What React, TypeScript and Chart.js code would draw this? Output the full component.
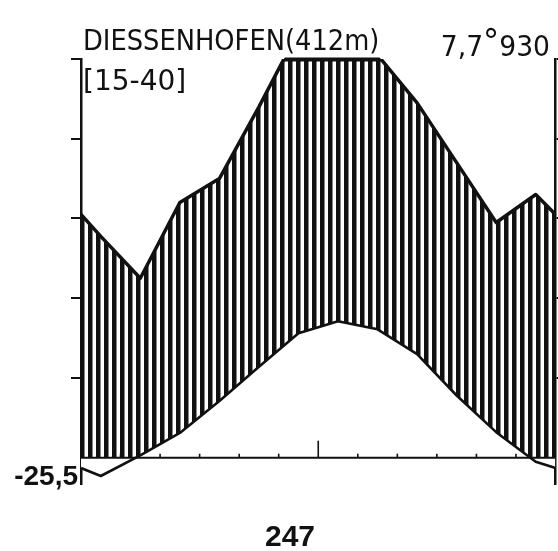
import React, { useEffect, useRef } from 'react';
import { Chart, registerables } from 'chart.js';

Chart.register(...registerables);

// ---- data (Walter-Lieth style) ----
const months = ['Jan', 'Feb', 'Mär', 'Apr', 'Mai', 'Jun', 'Jul', 'Aug', 'Sep', 'Okt', 'Nov', 'Dez'];
const precipitationMm = [55.5, 45, 64, 70, 88, 107, 111, 101, 89, 74, 59, 66];
const temperatureC = [-2.3, 0.3, 3.1, 7.1, 11.4, 15.6, 17.1, 16.1, 13.0, 7.8, 3.2, -0.5];
const edgePrecipitationMm = 61; // curve value at the year boundary
const edgeTemperatureC = -1.3;
const yTickValues = [10, 20, 30, 40, 50];
const monthBoundaries = [1, 2, 3, 4, 5, 6, 7, 8, 9, 10, 11];

const stationLabel = 'DIESSENHOFEN(412m)';
const periodLabel = '[15-40]';
const meanTempLabel = '7,7';
const annualPrecipLabel = '930';
const absMinLabel = '-25,5';
const pageLabel = '247';

const Y_MIN = -3.3;
const Y_MAX = 50;

function buildSeries(values: number[], edge: number, factor: number) {
  const pts = [{ x: 0, y: edge * factor }];
  values.forEach((v, i) => pts.push({ x: i + 0.5, y: v * factor }));
  pts.push({ x: 12, y: edge * factor });
  return pts;
}

const framePlugin: any = {
  id: 'frame',
  afterDatasetsDraw(chart: any) {
    const { ctx, chartArea, scales } = chart;
    const y0 = scales.y.getPixelForValue(0);
    ctx.save();
    ctx.strokeStyle = '#111';
    ctx.lineWidth = 2;
    ctx.beginPath();
    ctx.moveTo(chartArea.left, y0);
    ctx.lineTo(chartArea.right, y0);
    ctx.stroke();
    ctx.lineWidth = 1.6;
    monthBoundaries.forEach((k) => {
      const x = scales.x.getPixelForValue(k);
      const h = k === 6 ? 17 : 4;
      ctx.beginPath();
      ctx.moveTo(x, y0);
      ctx.lineTo(x, y0 - h);
      ctx.stroke();
    });
    ctx.restore();

    // thick top edge where precipitation runs past the frame
    const meta = chart.getDatasetMeta(1);
    const pts = meta.data;
    if (pts && pts.length) {
      ctx.save();
      ctx.beginPath();
      ctx.rect(chartArea.left, chartArea.top - 1.5, chartArea.right - chartArea.left, 4);
      ctx.clip();
      ctx.beginPath();
      ctx.moveTo(pts[0].x, pts[0].y);
      for (let i = 1; i < pts.length; i++) ctx.lineTo(pts[i].x, pts[i].y);
      ctx.lineTo(pts[pts.length - 1].x, chartArea.bottom);
      ctx.lineTo(pts[0].x, chartArea.bottom);
      ctx.closePath();
      ctx.fillStyle = '#111';
      ctx.fill();
      ctx.restore();
    }
  },
};

export default function App() {
  const ref = useRef<HTMLCanvasElement>(null);

  useEffect(() => {
    const canvas = ref.current as HTMLCanvasElement;
    const pc = document.createElement('canvas');
    pc.width = 8;
    pc.height = 8;
    const pctx = pc.getContext('2d') as CanvasRenderingContext2D;
    pctx.fillStyle = '#fff';
    pctx.fillRect(0, 0, 8, 8);
    pctx.fillStyle = '#111';
    pctx.fillRect(0, 0, 4.5, 8);
    const pattern = (canvas.getContext('2d') as CanvasRenderingContext2D).createPattern(pc, 'repeat');

    const tempData = buildSeries(temperatureC, edgeTemperatureC, 1);
    const precData = buildSeries(precipitationMm, edgePrecipitationMm, 0.5);

    const axisCommon = (pos: 'left' | 'right', width: number) => ({
      type: 'linear' as const,
      position: pos,
      min: Y_MIN,
      max: Y_MAX,
      z: 1,
      afterBuildTicks: (s: any) => {
        s.ticks = yTickValues.map((v) => ({ value: v }));
      },
      afterFit: (s: any) => {
        s.width = width;
      },
      ticks: { display: false },
      grid: { drawOnChartArea: false, drawTicks: true, tickLength: 10, color: '#111', lineWidth: 2 },
      border: { display: true, color: '#111', width: 2.5 },
    });

    const chart = new Chart(canvas, {
      type: 'line',
      data: {
        datasets: [
          {
            label: 'Temperatur (°C)',
            data: tempData,
            borderColor: '#111',
            borderWidth: 2.6,
            backgroundColor: '#ffffff',
            fill: 'origin',
            pointRadius: 0,
            tension: 0,
            borderJoinStyle: 'round',
          },
          {
            label: 'Niederschlag (mm)',
            data: precData,
            borderColor: '#111',
            borderWidth: 3.5,
            backgroundColor: pattern as any,
            fill: 'origin',
            pointRadius: 0,
            tension: 0,
            borderJoinStyle: 'round',
          },
        ],
      },
      options: {
        responsive: false,
        animation: false,
        devicePixelRatio: 1,
        layout: { padding: { left: 71, right: 0, top: 59, bottom: 67 } },
        plugins: { legend: { display: false }, tooltip: { enabled: false }, title: { display: false } },
        scales: {
          x: { type: 'linear', min: 0, max: 12, display: false },
          y: axisCommon('left', 10),
          y2: axisCommon('right', 2.5),
        },
      } as any,
      plugins: [framePlugin],
    });
    return () => chart.destroy();
  }, []);

  const text: React.CSSProperties = {
    position: 'absolute',
    whiteSpace: 'nowrap',
    lineHeight: 1,
    color: '#111',
    fontFamily: "'DejaVu Sans', sans-serif",
  };

  return (
    <div style={{ position: 'absolute', left: 0, top: 0, width: 558, height: 551, overflow: 'hidden', background: '#fff' }}>
      <canvas ref={ref} width={558} height={551} style={{ position: 'absolute', left: 0, top: 0 }} />
      <div style={{ ...text, left: 83, top: 27, fontSize: 28, transform: 'scaleX(0.92)', transformOrigin: 'left top' }}>
        {stationLabel}
      </div>
      <div style={{ ...text, right: 8, top: 27, fontSize: 28, transform: 'scaleX(0.95)', transformOrigin: 'right top' }}>
        {meanTempLabel}
        <span style={{ fontSize: 34, position: 'relative', top: -3 }}>°</span>
        {annualPrecipLabel}
      </div>
      <div style={{ ...text, left: 83, top: 67, fontSize: 28 }}>{periodLabel}</div>
      <div
        style={{
          ...text,
          right: 558 - 78,
          top: 462,
          fontSize: 28,
          fontWeight: 'bold',
          fontFamily: "'Liberation Sans', Arial, sans-serif",
        }}
      >
        {absMinLabel}
      </div>
      <div style={{ ...text, left: 265, top: 521, fontSize: 30, fontWeight: 'bold', fontFamily: "'Liberation Sans', Arial, sans-serif" }}>
        {pageLabel}
      </div>
    </div>
  );
}
